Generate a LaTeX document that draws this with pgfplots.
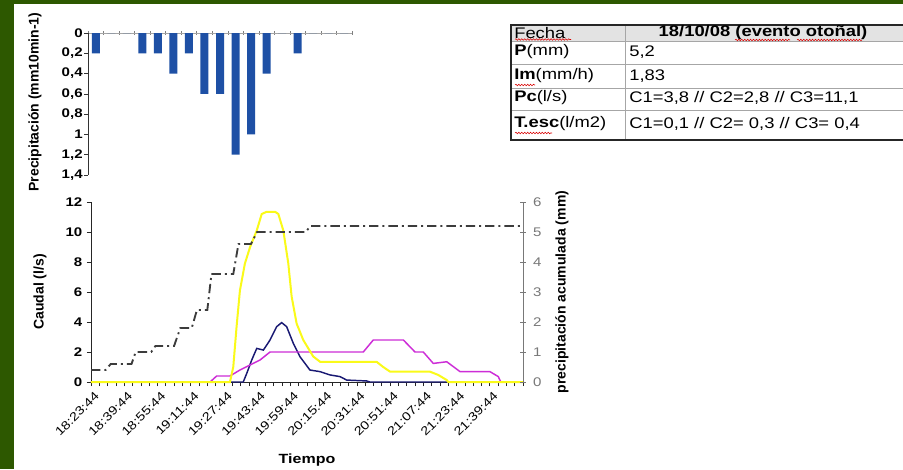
\documentclass[border=0pt]{standalone}
\usepackage{pgfplots}
\pgfplotsset{compat=1.18}
\usepackage{fontspec}
\setmainfont{Liberation Sans}
\newfontfamily\chartfont[FakeStretch=1.2]{Liberation Sans}
\newfontfamily\plainfont{Liberation Sans}
\usetikzlibrary{decorations.pathmorphing}
\definecolor{bgreen}{RGB}{45,88,0}
\definecolor{barblue}{RGB}{30,80,165}
\definecolor{cone}{RGB}{25,25,115}
\definecolor{ctwo}{RGB}{205,45,215}
\definecolor{cthree}{RGB}{250,250,25}
\definecolor{cum}{RGB}{60,60,60}
\definecolor{rgrey}{RGB}{120,120,120}
\begin{document}
\begin{tikzpicture}
\useasboundingbox (0pt,0pt) rectangle (677.25pt,-351.75pt);
\fill[white] (0pt,0pt) rectangle (677.25pt,-351.75pt);
\fill[bgreen] (0pt,0pt) rectangle (10.5pt,-351.75pt);
\fill[bgreen] (0pt,0pt) rectangle (677.25pt,-3pt);

% ---------- upper bar chart ----------
\begin{axis}[
  at={(66pt,-131.25pt)}, anchor=south west, scale only axis,
  width=198pt, height=106.5pt,
  xmin=-0.5, xmax=16.5, ymin=0, ymax=1.4, y dir=reverse,
  axis x line=middle, axis y line=left,
  x axis line style={-, draw=gray!70}, y axis line style={-, draw=black!80},
  hide obscured x ticks=false, hide obscured y ticks=false,
  xtick={-0.5,0.5,...,16.5}, xticklabels={},
  x tick style={draw=gray, line width=0.4pt}, xtick align=center,
  ytick={0,0.2,0.4,0.6,0.8,1,1.2,1.4},
  yticklabels={0,{0,2},{0,4},{0,6},{0,8},1,{1,2},{1,4}},
  ytick align=outside, y tick style={draw=black!80, line width=0.4pt},
  major tick length=3pt,
  yticklabel style={font=\chartfont\bfseries\fontsize{9.4}{10}\selectfont, xshift=2.5pt},
  clip=false,
]
\addplot[ybar, bar width=6pt, fill=barblue, draw=none] coordinates {
 (0,0.2) (1,0) (2,0) (3,0.2) (4,0.2) (5,0.4) (6,0.2) (7,0.6) (8,0.6)
 (9,1.2) (10,1.0) (11,0.4) (12,0) (13,0.2) (14,0) (15,0) (16,0)};
\end{axis}

% ---------- lower chart, left axis (caudal) ----------
\begin{axis}[
  at={(68.25pt,-286.5pt)}, anchor=south west, scale only axis,
  width=324pt, height=135pt,
  xmin=0, xmax=208, ymin=0, ymax=12,
  axis x line*=bottom, axis y line*=left,
  axis line style={-, draw=black!85, line width=0.6pt},
  xtick={0,16,...,192}, minor xtick={4,8,...,208},
  xticklabels={18:23:44,18:39:44,18:55:44,19:11:44,19:27:44,19:43:44,19:59:44,20:15:44,20:31:44,20:51:44,21:07:44,21:23:44,21:39:44},
  xticklabel style={rotate=45, anchor=north east, inner sep=1pt, yshift=-3pt,
     font=\chartfont\fontsize{9}{10}\selectfont},
  ytick={0,2,4,6,8,10,12}, yticklabels={0,2,4,6,8,10,12},
  yticklabel style={font=\chartfont\bfseries\fontsize{9.4}{10}\selectfont},
  tick align=outside, major tick length=3pt, minor tick length=3pt,
  every tick/.style={draw=black!85, line width=0.5pt},
  clip=false,
]
\addplot[cone, line width=1.1pt] coordinates {
 (0,0) (73.3,0) (75,0.58) (77.4,1.47) (79.8,2.24) (83,2.13) (86.2,2.8)
 (89.4,3.69) (91.8,3.96) (94.2,3.69) (97.4,2.58) (100.6,1.69) (105.4,0.8)
 (110.3,0.69) (115.1,0.47) (119.9,0.36) (123.1,0.13) (132.7,0.07) (134.3,0) (208,0)};
\addplot[ctwo, line width=1.1pt] coordinates {
 (0,0) (57.3,0) (60.5,0.4) (66.9,0.4) (71.7,0.8) (78.1,1.24) (81.4,1.47)
 (86.2,2.0) (131.1,2.0) (135.9,2.8) (150.4,2.8) (156,2.0) (160,2.0)
 (164.8,1.24) (171.3,1.35) (177.7,0.69) (192.1,0.69) (196.1,0.36) (197.3,0) (208,0)};
\addplot[cthree, line width=1.5pt] coordinates {
 (0,0) (66.9,0) (68.5,1.0) (70.1,3.7) (71.7,6.1) (74.1,7.9) (76.6,9.0)
 (79.8,10.1) (82.2,11.2) (84.6,11.35) (88.6,11.35) (90.2,11.2) (92.6,10.1)
 (95,7.9) (96.6,5.7) (99,3.9) (102.2,2.8) (107,1.7) (110.3,1.35) (137.5,1.35)
 (140.7,1.0) (144,0.69) (163.2,0.69) (167.2,0.47) (171.3,0.13) (172,0) (208,0)};
\end{axis}

% ---------- lower chart, right axis (precipitacion acumulada) ----------
\begin{axis}[
  at={(68.25pt,-286.5pt)}, anchor=south west, scale only axis,
  width=324pt, height=135pt,
  xmin=0, xmax=208, ymin=0, ymax=6,
  axis x line=none, axis y line*=right,
  axis line style={-, draw=rgrey, line width=0.6pt},
  ytick={0,1,2,3,4,5,6}, yticklabels={0,1,2,3,4,5,6},
  yticklabel style={font=\chartfont\fontsize{9.4}{10}\selectfont, text=rgrey, xshift=2pt},
  tick align=center, major tick length=4pt,
  every tick/.style={draw=rgrey, line width=0.5pt},
  clip=false,
]
\addplot[cum, line width=1.4pt, dash pattern=on 7pt off 3pt on 1.5pt off 3pt] coordinates {
 (0,0.4) (7,0.4) (9.5,0.6) (19.5,0.6) (21.5,1.0) (29,1.0) (31,1.2) (40,1.2)
 (43,1.8) (48.5,1.8) (51,2.4) (56,2.4) (58,3.6) (68.5,3.6) (71,4.6) (77,4.6)
 (80,5.0) (103.5,5.0) (105.5,5.2) (208,5.2)};
\end{axis}

\begin{scope}[x=0.75pt,y=-0.75pt]
% axis titles
\node[rotate=90, font=\plainfont\bfseries\fontsize{10.5}{12}\selectfont] at (35,102) {Precipitación (mm10min-1)};
\node[rotate=90, font=\plainfont\bfseries\fontsize{10.5}{12}\selectfont] at (40,292) {Caudal (l/s)};
\node[rotate=90, font=\plainfont\bfseries\fontsize{10.5}{12}\selectfont] at (562,292) {precipitación acumulada (mm)};
\node[font=\chartfont\bfseries\fontsize{10}{12}\selectfont] at (307,460) {Tiempo};

% table
\fill[gray!22] (511,25) rectangle (903,41);
\draw[gray!70, line width=0.6pt] (511,41) -- (903,41);
\draw[gray!70, line width=0.6pt] (511,64) -- (903,64);
\draw[gray!70, line width=0.6pt] (511,88) -- (903,88);
\draw[gray!70, line width=0.6pt] (511,110) -- (903,110);
\draw[gray!70, line width=0.6pt] (625,25) -- (625,140);
\draw[black!85, line width=1.1pt] (903,25) -- (511,25) -- (511,140) -- (903,140);
\begin{scope}[every node/.style={anchor=west, inner sep=0pt, font=\chartfont\fontsize{11.5}{13}\selectfont}]
\node at (514,33) {Fecha};
\node at (514,52) {{\bfseries P}(mm)};
\node at (514,76) {{\bfseries Im}(mm/h)};
\node at (514,98) {{\bfseries Pc}(l/s)};
\node at (514,124) {{\bfseries T.esc}(l/m2)};
\node at (629,52) {5,2};
\node at (629,76) {1,83};
\node at (629,98) {C1=3,8 // C2=2,8 // C3=11,1};
\node at (629,124) {C1=0,1 // C2= 0,3 // C3= 0,4};
\end{scope}
\node[inner sep=0pt, font=\chartfont\bfseries\fontsize{11.5}{13}\selectfont] at (763,33) {18/10/08 (evento otoñal)};
% spell-check underlines
\begin{scope}[red!85!black, line width=0.4pt, decorate, decoration={snake, amplitude=0.6pt, segment length=2.2pt}]
\draw[decorate] (515,39.5) -- (571,39.5);
\draw[decorate] (515,85) -- (535,85);
\draw[decorate] (515,133) -- (552,133);
\draw[decorate] (735,40) -- (790,40);
\draw[decorate] (797,40) -- (862,40);
\end{scope}
\end{scope}
\end{tikzpicture}
\end{document}
